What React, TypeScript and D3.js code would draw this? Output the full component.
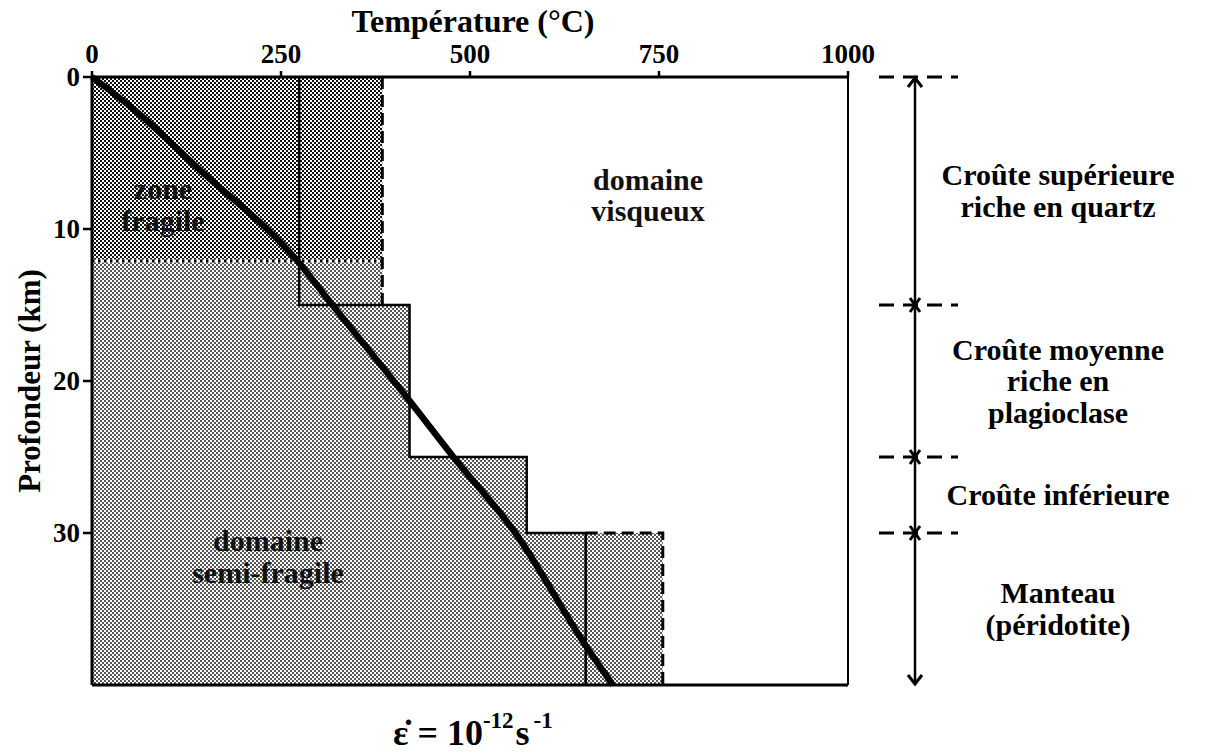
import React from "react";
import * as d3 from "d3";

// ---- data ----
const tempTicks = [0, 250, 500, 750, 1000];
const depthTicks = [0, 10, 20, 30];
const geothermT = [0, 57, 140, 270, 318, 420, 478, 560, 653, 689];
const geothermZ = [0, 2.2, 6, 12, 15, 21.3, 25, 30, 37.4, 40];
// brittle/ductile step boundary (solid)
const stepT = [274, 420, 575, 653];
const stepZ = [0, 15, 25, 30, 40];
// dashed boundary (quartz & peridotite)
const dashedTop = { t: 384, z0: 0, z1: 15 };
const dashedBottom = { t: 755, z0: 30, z1: 40 };
const fragileDepth = 12.1;
const layerBounds = [0, 15, 25, 30];
const maxDepth = 40;
const layerLabels: { lines: string[]; z: number }[] = [
  { lines: ["Croûte supérieure", "riche en quartz"], z: 7.5 },
  { lines: ["Croûte moyenne", "riche en", "plagioclase"], z: 20 },
  { lines: ["Croûte inférieure"], z: 27.5 },
  { lines: ["Manteau", "(péridotite)"], z: 35 },
];

const W = 1206;
const H = 753;
const x = d3.scaleLinear().domain([0, 1000]).range([92, 848]);
const y = d3.scaleLinear().domain([0, 40]).range([77, 685]);
const FONT = "'Liberation Serif', 'Times New Roman', serif";

export default function App() {
  const line = d3
    .line<number>()
    .x((_, i) => x(geothermT[i]))
    .y((_, i) => y(geothermZ[i]))
    .curve(d3.curveMonotoneX);
  const geoPath = line(geothermT) || "";

  const lightPts: [number, number][] = [
    [0, fragileDepth],
    [dashedTop.t, fragileDepth],
    [dashedTop.t, stepZ[1]],
    [stepT[1], stepZ[1]],
    [stepT[1], stepZ[2]],
    [stepT[2], stepZ[2]],
    [stepT[2], stepZ[3]],
    [dashedBottom.t, stepZ[3]],
    [dashedBottom.t, maxDepth],
    [0, maxDepth],
  ];
  const poly = (pts: [number, number][]) =>
    pts.map((p) => `${x(p[0])},${y(p[1])}`).join(" ");

  const stepPath =
    `M${x(stepT[0])},${y(stepZ[0])}` +
    stepT
      .map((t, i) => {
        let s = `V${y(stepZ[i + 1])}`;
        if (i < stepT.length - 1) s += `H${x(stepT[i + 1])}`;
        return s;
      })
      .join("");

  const ax = 915;
  const dashX0 = 879;
  const dashX1 = 958;

  return (
    <svg
      width={W}
      height={H}
      style={{ position: "absolute", left: 0, top: 0, background: "#fff" }}
      fontFamily={FONT}
      fontWeight="bold"
    >
      <defs>
        <pattern id="dark" width="4" height="4" patternUnits="userSpaceOnUse">
          <rect width="4" height="4" fill="#fff" />
          <rect x="0" y="0" width="2" height="2" fill="#111" />
          <rect x="2" y="2" width="2" height="2" fill="#111" />
        </pattern>
        <pattern id="light" width="4" height="4" patternUnits="userSpaceOnUse">
          <rect width="4" height="4" fill="#fff" />
          <rect x="0" y="0" width="2" height="2" fill="#555" />
          <rect x="2" y="2" width="2" height="2" fill="#555" />
        </pattern>
      </defs>

      {/* shading */}
      <rect
        x={x(0)}
        y={y(0)}
        width={x(dashedTop.t) - x(0)}
        height={y(fragileDepth) - y(0)}
        fill="url(#dark)"
      />
      <polygon points={poly(lightPts)} fill="url(#light)" />

      {/* in-plot labels */}
      <g fontSize={30} textAnchor="middle" fill="#111">
        <text x={163} y={199}>zone</text>
        <text x={163} y={231}>fragile</text>
        <text x={648} y={190}>domaine</text>
        <text x={648} y={221}>visqueux</text>
        <text x={268} y={551}>domaine</text>
        <text x={268} y={583}>semi-fragile</text>
      </g>

      {/* dotted fragile limit */}
      <line
        x1={x(0)}
        x2={x(dashedTop.t)}
        y1={y(fragileDepth)}
        y2={y(fragileDepth)}
        stroke="#fff"
        strokeWidth={3}
      />
      <line
        x1={x(0)}
        x2={x(dashedTop.t)}
        y1={y(fragileDepth)}
        y2={y(fragileDepth)}
        stroke="#000"
        strokeWidth={3}
        strokeDasharray="2.5,3.5"
      />

      {/* dashed boundaries */}
      <line
        x1={x(dashedTop.t)}
        x2={x(dashedTop.t)}
        y1={y(dashedTop.z0)}
        y2={y(dashedTop.z1)}
        stroke="#000"
        strokeWidth={3}
        strokeDasharray="12,6"
      />
      <path
        d={`M${x(stepT[3])},${y(dashedBottom.z0)}H${x(dashedBottom.t)}V${y(dashedBottom.z1)}`}
        fill="none"
        stroke="#000"
        strokeWidth={3}
        strokeDasharray="12,6"
      />

      {/* solid steps */}
      <path d={stepPath} fill="none" stroke="#000" strokeWidth={2.5} />

      {/* geotherm */}
      <path d={geoPath} fill="none" stroke="#000" strokeWidth={6.5} strokeLinejoin="round" />

      {/* frame */}
      <line x1={x(1000)} x2={x(1000)} y1={y(0) - 6} y2={y(40)} stroke="#000" strokeWidth={2} />
      <line x1={x(0)} x2={x(1000)} y1={y(40)} y2={y(40)} stroke="#000" strokeWidth={3} />
      <line x1={x(0)} x2={x(1000)} y1={y(0)} y2={y(0)} stroke="#000" strokeWidth={3} />
      <line x1={x(0)} x2={x(0)} y1={y(0)} y2={y(40)} stroke="#000" strokeWidth={3} />

      {/* top axis */}
      {tempTicks.map((t) => (
        <g key={t}>
          <line x1={x(t)} x2={x(t)} y1={y(0)} y2={y(0) - 6} stroke="#000" strokeWidth={2.5} />
          <text x={x(t)} y={63} fontSize={27} textAnchor="middle">
            {t}
          </text>
        </g>
      ))}
      <text x={473} y={32} fontSize={32} textAnchor="middle">
        Température (°C)
      </text>

      {/* left axis */}
      {depthTicks.map((d) => (
        <g key={d}>
          <line x1={x(0) - 9} x2={x(0)} y1={y(d)} y2={y(d)} stroke="#000" strokeWidth={2.5} />
          <text x={x(0) - 12} y={y(d) + 9} fontSize={27} textAnchor="end">
            {d}
          </text>
        </g>
      ))}
      <text
        transform={`translate(40,${y(20)}) rotate(-90)`}
        fontSize={31}
        textAnchor="middle"
      >
        Profondeur (km)
      </text>

      {/* strain rate */}
      <text x={393} y={745} fontSize={36}>
        {"ε\u0307 = 10"}
        <tspan fontSize={23} dy={-17}>-12</tspan>
        <tspan fontSize={36} dy={17} dx={2}>s</tspan>
        <tspan fontSize={23} dy={-17} dx={4}>-1</tspan>
      </text>

      {/* right annotation */}
      <line x1={ax} x2={ax} y1={y(0) + 2} y2={y(maxDepth) - 2} stroke="#000" strokeWidth={2.5} />
      {layerBounds.map((z) => (
        <line
          key={z}
          x1={dashX0}
          x2={dashX1}
          y1={y(z)}
          y2={y(z)}
          stroke="#000"
          strokeWidth={3}
          strokeDasharray="15,9"
        />
      ))}
      <path
        d={`M${ax - 7},${y(0) + 10}L${ax},${y(0) + 1}L${ax + 7},${y(0) + 10}`}
        fill="none"
        stroke="#000"
        strokeWidth={3}
      />
      <path
        d={`M${ax - 7},${y(maxDepth) - 10}L${ax},${y(maxDepth) - 1}L${ax + 7},${y(maxDepth) - 10}`}
        fill="none"
        stroke="#000"
        strokeWidth={3}
      />
      {layerBounds.slice(1).map((z) => (
        <path
          key={z}
          d={`M${ax - 5},${y(z) - 7}L${ax + 5},${y(z) + 7}M${ax + 5},${y(z) - 7}L${ax - 5},${y(z) + 7}`}
          stroke="#000"
          strokeWidth={3}
        />
      ))}
      <g fontSize={30} textAnchor="middle">
        {layerLabels.map((l) => {
          const n = l.lines.length;
          const cy = y(l.z);
          return l.lines.map((s, i) => (
            <text key={s} x={1058} y={cy + 10 + (i - (n - 1) / 2) * 31.5}>
              {s}
            </text>
          ));
        })}
      </g>
    </svg>
  );
}
